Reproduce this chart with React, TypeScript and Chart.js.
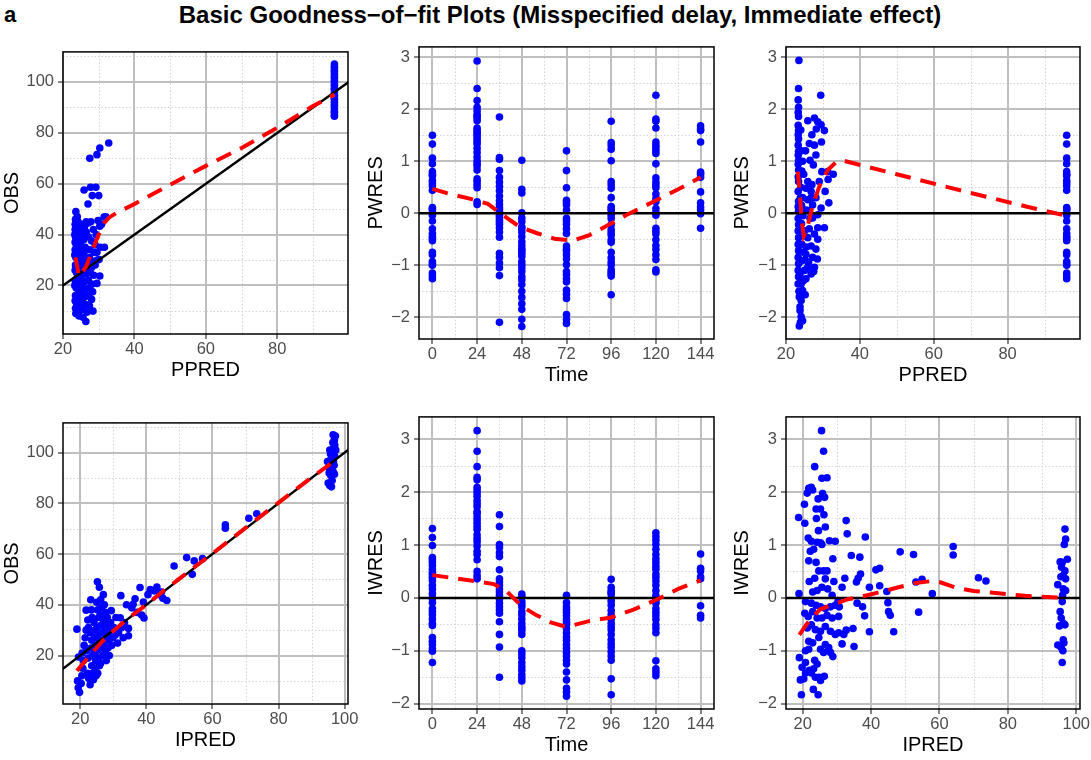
import React, { useEffect, useRef } from "react";
import { Chart, registerables } from "chart.js";

Chart.register(...registerables);

const FONT = "'Liberation Sans', Arial, Helvetica, sans-serif";

const PANEL_TAG = "a";
const TITLE = "Basic Goodness\u2212of\u2212fit Plots (Misspecified delay, Immediate effect)";

// ---------- tick definitions ----------
const TIME_TICKS = [0, 24, 48, 72, 96, 120, 144];
const TIME_MINOR = [12, 36, 60, 84, 108, 132];
const PRED_TICKS = [20, 40, 60, 80];
const PRED_TICKS_100 = [20, 40, 60, 80, 100];
const PRED_MINOR = [30, 50, 70, 90];
const OBS_TICKS = [20, 40, 60, 80, 100];
const OBS_MINOR = [10, 30, 50, 70, 90, 110];
const RES_TICKS = [-2, -1, 0, 1, 2, 3];
const RES_MINOR = [-1.5, -0.5, 0.5, 1.5, 2.5];

// ---------- data ----------
const PPRED_T0 = 96; // population prediction of time-0 samples

// PWRES by time
const PWRES_T0 = [1.5, 1.33, 1.06, 0.95, 0.8, 0.75, 0.72, 0.63, 0.58, 0.53, 0.44, 0.11, 0.08, 0.06, -0.04, -0.15, -0.3, -0.39, -0.45, -0.48, -0.53, -0.75, -0.8, -0.93, -0.97, -1.0, -1.15, -1.21, -1.26];
const PWRES_T24 = [2.93, 2.4, 2.17, 2.04, 1.97, 1.9, 1.87, 1.83, 1.78, 1.64, 1.6, 1.56, 1.52, 1.47, 1.42, 1.37, 1.33, 1.25, 1.17, 1.08, 1.01, 0.95, 0.91, 0.83, 0.66, 0.61, 0.55, 0.49, 0.22, 0.17];
const PWRES_T36 = [1.85, 1.07, 1.04, 0.82, 0.69, 0.6, 0.52, 0.43, 0.33, 0.24, 0.17, 0.11, 0.07, 0.03, -0.04, -0.08, -0.13, -0.17, -0.21, -0.28, -0.36, -0.46, -0.77, -0.85, -0.96, -1.05, -1.2, -2.1];
const PWRES_T48 = [1.02, 0.46, 0.39, 0.01, -0.09, -0.16, -0.26, -0.3, -0.36, -0.45, -0.55, -0.62, -0.69, -0.72, -0.77, -0.83, -0.93, -0.99, -1.05, -1.12, -1.22, -1.28, -1.37, -1.5, -1.62, -1.74, -1.85, -2.04, -2.18];
const PWRES_T72 = [1.2, 0.82, 0.49, 0.25, 0.2, 0.16, 0.06, -0.1, -0.15, -0.21, -0.3, -0.39, -0.63, -0.69, -0.72, -0.8, -0.88, -0.99, -1.12, -1.18, -1.26, -1.32, -1.48, -1.56, -1.64, -1.95, -2.04, -2.12];
const PWRES_T96 = [1.77, 1.36, 1.3, 1.23, 1.01, 0.61, 0.55, 0.48, 0.3, 0.13, 0.09, 0.05, -0.04, -0.1, -0.22, -0.32, -0.37, -0.42, -0.51, -0.56, -0.75, -0.86, -0.94, -0.99, -1.09, -1.13, -1.17, -1.21, -1.57];
const PWRES_T120 = [2.27, 1.81, 1.77, 1.64, 1.37, 1.31, 1.26, 1.2, 1.15, 0.95, 0.68, 0.6, 0.55, 0.49, 0.37, 0.28, 0.22, 0.09, 0.02, -0.04, -0.29, -0.35, -0.4, -0.51, -0.62, -0.7, -0.8, -0.89, -1.09, -1.13];
const PWRES_T144 = [1.68, 1.62, 1.59, 1.37, 0.79, 0.75, 0.69, 0.41, 0.2, 0.12, 0.06, -0.01, -0.29];

// IWRES by time
const IWRES_T0 = [1.31, 1.14, 0.99, 0.76, 0.72, 0.67, 0.61, 0.54, 0.48, 0.44, 0.39, 0.33, 0.24, 0.17, 0.08, -0.01, -0.09, -0.2, -0.26, -0.32, -0.4, -0.48, -0.52, -0.75, -0.82, -0.88, -0.96, -1.01, -1.22];
const IWRES_T24 = [3.16, 2.77, 2.48, 2.28, 2.23, 2.09, 2.04, 1.98, 1.92, 1.84, 1.78, 1.72, 1.63, 1.6, 1.53, 1.47, 1.41, 1.35, 1.29, 1.19, 1.12, 1.06, 0.98, 0.88, 0.82, 0.72, 0.5, 0.42, 0.36];
const IWRES_T36 = [1.57, 1.35, 1.01, 0.95, 0.85, 0.78, 0.53, 0.36, 0.3, 0.24, 0.17, 0.11, 0.05, -0.02, -0.1, -0.17, -0.23, -0.29, -0.45, -0.69, -0.93, -1.5];
const IWRES_T48 = [0.07, 0.02, -0.07, -0.12, -0.17, -0.26, -0.32, -0.4, -0.48, -0.54, -0.58, -0.62, -0.69, -1.0, -1.06, -1.13, -1.22, -1.3, -1.37, -1.45, -1.51, -1.57];
const IWRES_T72 = [0.05, -0.09, -0.17, -0.22, -0.27, -0.34, -0.41, -0.46, -0.51, -0.58, -0.66, -0.74, -0.8, -0.88, -0.95, -1.03, -1.1, -1.18, -1.25, -1.4, -1.55, -1.71, -1.78, -1.86];
const IWRES_T96 = [0.35, 0.2, 0.14, 0.1, 0.07, -0.01, -0.07, -0.14, -0.24, -0.32, -0.4, -0.48, -0.54, -0.6, -0.69, -0.79, -0.87, -0.94, -1.02, -1.1, -1.18, -1.53, -1.83];
const IWRES_T120 = [1.23, 1.16, 1.09, 1.01, 0.92, 0.82, 0.74, 0.67, 0.6, 0.54, 0.45, 0.39, 0.32, 0.24, 0.14, 0.05, -0.01, -0.05, -0.1, -0.2, -0.27, -0.34, -0.41, -0.51, -0.58, -0.66, -1.19, -1.34, -1.4, -1.47];
const IWRES_T144 = [0.83, 0.56, 0.51, 0.4, 0.36, -0.15, -0.33, -0.38];

const PWRES_BY_TIME: [number, number[]][] = [
  [0, PWRES_T0], [24, PWRES_T24], [36, PWRES_T36], [48, PWRES_T48],
  [72, PWRES_T72], [96, PWRES_T96], [120, PWRES_T120], [144, PWRES_T144],
];
const IWRES_BY_TIME: [number, number[]][] = [
  [0, IWRES_T0], [24, IWRES_T24], [36, IWRES_T36], [48, IWRES_T48],
  [72, IWRES_T72], [96, IWRES_T96], [120, IWRES_T120], [144, IWRES_T144],
];

// OBS of time-0 samples (PPRED = 96)
const OBS_T0 = [107, 106, 105.5, 104.5, 104, 103, 102, 101.5, 100.5, 100, 99, 98.5, 97.5, 97, 96, 95, 94.5, 93.5, 93, 92, 91, 90.5, 89.5, 88.5, 88, 87, 86.5];

// OBS vs PPRED (remaining samples) [PPRED, OBS]
const OBS_PPRED: [number, number][] = [
  [23.6, 49], [23.5, 46], [23.8, 44], [24.2, 45], [23.4, 42], [24, 41], [24.6, 43], [25.2, 44], [26, 43], [27, 44.5],
  [27.8, 45], [28.5, 42], [29.3, 40], [26.5, 41], [25.5, 40], [23.5, 39], [24.3, 38], [23.7, 36], [24.8, 37], [25.8, 38],
  [27.2, 39], [28, 37.5], [29, 36], [23.4, 34], [24.1, 33], [25, 34.5], [26.2, 35], [27.5, 34], [28.7, 33], [30.5, 35],
  [31.6, 35], [23.6, 31], [24.4, 30], [25.3, 31.5], [26.4, 30.5], [27.4, 31], [28.4, 29.5], [29.6, 30], [30.1, 30.2], [23.5, 28],
  [24.2, 27], [25, 28.5], [26, 27.5], [27, 26.5], [28, 27], [29, 28], [23.8, 25], [24.6, 24], [25.5, 25.5], [26.5, 24.5],
  [27.6, 25], [28.6, 24], [30.3, 23.7], [23.4, 22], [24.2, 21], [25.1, 22.5], [26.1, 21.5], [27.1, 22], [28.1, 20.5], [29.5, 20.8],
  [23.7, 19], [24.5, 18], [25.3, 19.5], [26.3, 18.5], [27.3, 19], [28.3, 17.5], [23.5, 16], [24.3, 15], [25.2, 16.5], [26.2, 15.5],
  [27.2, 16], [28, 14.5], [23.8, 13], [24.6, 12], [25.4, 13.5], [26.4, 12.5], [27.4, 12], [23.5, 11], [24.4, 10], [25.5, 10.5],
  [26.8, 9.5], [28.4, 9.9], [23.6, 9], [24.5, 8], [25.6, 7.5], [26.4, 5.8], [23.4, 44], [23.3, 40], [23.4, 37], [23.3, 32],
  [23.4, 26], [23.3, 20], [23.4, 14], [24, 47], [25, 42], [26.5, 45], [29.5, 33], [24.9, 36], [26.9, 29], [25.9, 33],
  [25.9, 57.5], [27.7, 58.6], [29.2, 58.6], [28.2, 55.3], [30, 55.3], [27, 52], [27.5, 70], [29.5, 71.4], [30.3, 74], [32.8, 76],
  [31.5, 46.9], [32, 47], [30.3, 43.3], [29.8, 45.5], [30.8, 44],
];

// PWRES vs PPRED (remaining samples) [PPRED, PWRES]
const PWRES_PPRED: [number, number][] = [
  [23.5, 2.94], [23.4, 2.4], [23.3, 2.18], [23.4, 2.04], [23.3, 1.94], [23.4, 1.86], [23.3, 1.69], [23.4, 1.59], [23.3, 1.51], [23.4, 1.43],
  [23.3, 1.31], [23.4, 1.19], [23.3, 1.12], [23.4, 1.02], [23.3, 0.94], [23.4, 0.83], [23.3, 0.7], [23.4, 0.61], [23.3, 0.42], [23.4, 0.23],
  [23.3, 0.13], [23.4, 0.04], [23.3, -0.1], [23.4, -0.22], [23.3, -0.34], [23.4, -0.47], [23.3, -0.6], [23.4, -0.72], [23.3, -0.85], [23.4, -0.97],
  [23.3, -1.1], [23.4, -1.22], [23.3, -1.36], [23.5, -1.5], [23.6, -1.61], [23.6, -2.17], [23.9, -2.1],
  [29.4, 2.27], [25.9, 1.78], [27.7, 1.83], [28.6, 1.76], [29.5, 1.7], [30.4, 1.59], [27, 1.51], [28.2, 1.62], [29.6, 1.37], [26.3, 1.34],
  [27.7, 1.31], [25.3, 1.2], [28.1, 1.12], [26.5, 1.02], [24.5, 1.0], [27.4, 0.93], [24.3, 0.81], [29.7, 0.8], [31.3, 0.8], [32.8, 0.75],
  [29, 0.61], [31.4, 0.65], [25.9, 0.61], [25.4, 0.48], [26.8, 0.42], [30.6, 0.42], [28.1, 0.3], [25.9, 0.26], [24.5, 0.3], [31.6, 0.2],
  [27.2, 0.16], [29.5, 0.1], [25.4, 0.06], [28.6, -0.03], [24.2, 0.15], [27.2, -0.09], [30.4, -0.28], [28.6, -0.28], [25, -0.34], [27.7, -0.4],
  [24.2, -0.2], [25.9, -0.47], [28.6, -0.5], [24.3, -0.6], [26.8, -0.63], [28.1, -0.69], [25.4, -0.79], [27.2, -0.85], [24.1, -0.92], [26.1, -0.95],
  [27.7, -1.04], [25, -1.1], [23.8, -1.17], [26.8, -1.17], [25.4, -1.26], [24.1, -1.36], [27.5, -1.12], [24.5, -1.49], [24.1, -1.68], [23.8, -1.87],
  [24.1, -1.99], [24.5, -2.07], [23.8, -1.8], [25.2, -1.57], [24.8, -0.75], [26.5, -0.1], [24.8, 0.75], [26, 0.05], [24.6, -0.05], [25.5, -0.65],
  [26.3, -0.3], [24.7, -1.3], [25.8, -1.05], [27, 0.55], [28.5, -0.88], [26.8, 0.3], [24, 0.5], [24.2, 1.2], [24.0, 1.6], [25.2, -0.9],
  [23.9, 0.3], [24.5, -0.4],
];

// OBS vs IPRED [IPRED, OBS]
const OBS_IPRED: [number, number][] = [
  [19, 30.4], [19.5, 19.4], [19.2, 10], [19.4, 7.3], [19.8, 5.5], [20.3, 9], [20.5, 12], [20.8, 15], [21, 18], [20.6, 21],
  [21.2, 24], [21.5, 27], [21.8, 30], [21.8, 37.9], [22.3, 34], [22.5, 31], [22, 22], [22.4, 19], [22.2, 13], [22.6, 11],
  [23, 8.5], [23.2, 42], [23.4, 38], [23.6, 35], [23.1, 29], [23.5, 26], [23.3, 23], [23.7, 20], [23.5, 16], [23.8, 13],
  [24, 10.5], [24.2, 33], [24.5, 30], [24.3, 27], [24.6, 24], [24.4, 21], [24.7, 18], [24.5, 15], [24.8, 12], [25.2, 49.1],
  [25.8, 46.9], [25, 41], [25.3, 38], [25.6, 35], [25.1, 31], [25.4, 28], [25.7, 25], [25.2, 22], [25.5, 19], [25.8, 16],
  [25.3, 13], [26.2, 42], [26.5, 39], [26.1, 36], [26.4, 32], [26.7, 29], [26.3, 26], [26.6, 23], [26.9, 20], [26.2, 17],
  [27, 44], [27.3, 40], [27.6, 37], [27.1, 34], [27.5, 30], [27.8, 27], [27.2, 24], [27.6, 21], [27.9, 18], [28.2, 35],
  [28.5, 32], [28.3, 29], [28.7, 26], [28.4, 23], [28.8, 20], [29.4, 37.7], [29.2, 33], [29.6, 30], [29.8, 27], [29.5, 24],
  [30.2, 31], [30.5, 28], [30.8, 35], [31.3, 24.9], [31.6, 29], [32.1, 34.9], [32.3, 43.6], [32.5, 31], [33, 27], [33.4, 33],
  [34, 40], [34.6, 30.7], [34.6, 27.8], [35.6, 38.8], [36, 40.2], [36.6, 42.4], [37.2, 37], [38.1, 46.8], [38.6, 36], [39.1, 41.1],
  [39.3, 34.8], [40.5, 44], [41.2, 46], [42.4, 45.5], [43.2, 47], [44, 44], [45, 42.6], [46.2, 41.7], [44.6, 45],
  [48.4, 55.3], [52.2, 58.6], [53.9, 52], [54.5, 57.3], [57, 58.2], [63.9, 71.5], [63.9, 70.2], [71, 74.1], [73.4, 75.9],
  [94.8, 96.5], [95.2, 94], [95, 88], [95.5, 87], [96, 86.5], [96.2, 89], [95.8, 91], [96.5, 92.5], [96.8, 95], [95.6, 97],
  [96, 99], [96.3, 100.5], [96.7, 102], [97, 103], [96.9, 105], [97.2, 106.5], [96.5, 107], [95.5, 101], [95.7, 99.5], [96.2, 97.5],
  [96.6, 96.5], [97, 98.5], [97.3, 101], [95.3, 92], [96.1, 93.5], [96.9, 91.5], [95.9, 95.5], [96.4, 104],
];

// IWRES vs IPRED [IPRED, IWRES]
const IWRES_IPRED: [number, number][] = [
  [25.5, 3.16], [26.1, 2.77], [23.5, 2.48], [25.6, 2.26], [27.1, 2.27], [21.75, 2.07], [22.5, 2.09], [22.9, 2.04], [21.3, 1.98], [25.8, 1.97],
  [26.4, 1.9], [24.5, 1.87], [20.5, 1.77], [18.8, 1.52], [20.6, 1.41], [23.9, 1.68], [25.2, 1.68], [26.2, 1.57], [24, 1.5], [26.6, 1.34],
  [24.6, 1.27], [21.6, 1.13], [22.5, 1.07], [27.8, 1.08], [29.5, 1.07], [25.2, 1.04], [24.2, 1.05], [25.6, 1.01], [23.2, 0.92], [22.2, 0.88],
  [23.9, 0.67], [21.75, 0.7], [28.8, 0.74], [24.7, 0.51], [26.1, 0.51], [27.1, 0.51], [26.6, 0.36], [23.5, 0.37], [29.1, 0.31], [21.9, 0.31],
  [18.9, 0.08], [22.9, 0.11], [24.2, 0.14], [25.6, 0.2], [27.3, 0.17], [28.6, 0.05], [20.8, -0.07], [22.5, -0.1], [23.9, -0.14], [25.2, -0.17],
  [26.6, -0.2], [28.1, -0.17], [29.5, -0.14], [20.6, -0.29], [21.6, -0.35], [22.9, -0.26], [24.2, -0.38], [25.6, -0.38], [27.1, -0.33], [28.6, -0.38],
  [30.5, -0.35], [21.3, -0.57], [22.5, -0.51], [23.7, -0.6], [25.2, -0.63], [26.6, -0.54], [28.1, -0.63], [29.5, -0.69], [30.5, -0.66], [21.75, -0.82],
  [22.9, -0.85], [24.7, -0.75], [26.6, -0.88], [27.6, -0.94], [20.8, -1.0], [21.75, -0.97], [25.2, -0.97], [26.1, -1.03], [28.1, -1.03], [28.8, -1.11],
  [19, -1.13], [20.8, -1.22], [23.5, -1.18], [24.2, -1.25], [23.2, -1.34], [19.8, -1.31], [21.9, -1.37], [22.5, -1.42], [20.8, -1.42], [23.7, -1.5],
  [24.7, -1.5], [25.2, -1.56], [19.3, -1.55], [20.3, -1.53], [23.1, -1.73], [19.6, -1.83], [24.5, -1.83], [26.3, -1.48],
  [32.7, 1.46], [33, 1.21], [38.3, 1.15], [34.2, 0.8], [36.7, 0.77], [31.5, 0.2], [32.3, 0.37], [35.7, 0.3], [36.2, 0.37], [36.9, 0.45],
  [39.5, 0.2], [41.4, 0.53], [42.5, 0.56], [42.5, 0.23], [44.6, 0.12], [44.9, -0.09], [45.1, -0.26], [45.6, -0.33], [46.6, -0.64], [48.5, 0.87],
  [52.4, 0.82], [54.9, 0.35], [53.9, -0.27], [53.1, 0.3], [57.9, 0.08], [64, 0.97], [64, 0.81], [71.4, 0.38], [73.6, 0.32], [35.9, -0.1],
  [37.5, -0.17], [38.1, -0.34], [39.5, -0.64], [34.7, -0.58], [35, -0.92], [32, -0.69], [32.7, -0.61], [31.5, -0.87], [30.7, -0.17], [30.3, -0.07],
  [96.7, 1.3], [96.9, 1.11], [96.5, 1.01], [97.4, 0.73], [95.9, 0.67], [95.3, 0.68], [95.7, 0.58], [96.7, 0.51], [96.9, 0.36], [96.2, 0.42],
  [94.6, 0.25], [96.2, 0.17], [96.9, 0.14], [95.9, -0.07], [95.3, -0.26], [95.6, -0.38], [96.2, -0.48], [96.7, -0.51], [95.1, -0.53], [96.2, -0.79],
  [96.4, -0.85], [94.6, -0.89], [95.6, -0.94], [96.1, -1.0], [95.9, -1.22], [96, 0.05], [95.5, 0.4],
];

// smoother (red dashed) curves
const SMOOTH_OBS_PPRED: [number, number][] = [[23.5, 31], [24.5, 23.5], [26.5, 27.5], [28, 33], [30, 40], [31.5, 44.5], [33, 46.8], [35, 48.5], [40, 52], [50, 59.6], [60, 67], [70, 74], [80, 82], [90, 90.5], [96, 95]];
const SMOOTH_PWRES_TIME: [number, number][] = [[0, 0.47], [9.3, 0.37], [20, 0.28], [29.8, 0.18], [37.9, -0.04], [46.8, -0.26], [56.6, -0.39], [65.5, -0.49], [75.4, -0.53], [84.3, -0.42], [95.9, -0.2], [103.9, -0.04], [114.6, 0.15], [123.6, 0.31], [132.5, 0.47], [144, 0.69]];
const SMOOTH_PWRES_PPRED: [number, number][] = [[23.2, 0.8], [23.8, 0.32], [24.2, -0.1], [24.8, -0.44], [25.5, -0.35], [26.1, -0.18], [27.2, 0.14], [29, 0.51], [31.3, 0.83], [33.5, 0.98], [35, 1.02], [50, 0.75], [70, 0.39], [85, 0.13], [96, -0.05]];
const SMOOTH_OBS_IPRED: [number, number][] = [[19, 14], [22.4, 19.2], [26.4, 25.2], [30, 29.7], [35, 35.2], [40, 40], [45, 45.3], [50, 50.3], [55, 55.3], [60, 60.2], [70, 70.3], [80, 80.3], [90, 90.2], [96, 95.8]];
const SMOOTH_IWRES_TIME: [number, number][] = [[0, 0.43], [12, 0.37], [24, 0.31], [33, 0.26], [40, 0.12], [48, -0.16], [56, -0.33], [64, -0.47], [72, -0.55], [84, -0.44], [96, -0.37], [108, -0.22], [120, -0.04], [132, 0.17], [144, 0.33]];
const SMOOTH_IWRES_IPRED: [number, number][] = [[19, -0.7], [22, -0.42], [25, -0.22], [27, -0.17], [30, -0.1], [33, -0.03], [37, 0.02], [42, 0.1], [48, 0.2], [53, 0.28], [58, 0.32], [60, 0.3], [65, 0.19], [70, 0.13], [75, 0.1], [80, 0.07], [85, 0.04], [90, 0.02], [97, 0]];

// reference lines
const IDENTITY_LINE: [number, number][] = [[0, 0], [120, 120]];
const ZERO_LINE: [number, number][] = [[-20, 0], [200, 0]];

// ---------- helpers ----------
const toPts = (arr: [number, number][]) => arr.map(([x, y]) => ({ x, y }));
const timePts = (groups: [number, number[]][]) =>
  groups.flatMap(([t, vals]) => vals.map((v) => ({ x: t, y: v })));
const colPts = (x: number, vals: number[]) => vals.map((v) => ({ x, y: v }));
const fmt = (v: number) => (v < 0 ? "\u2212" + Math.abs(v) : String(v));

const AXIS_W = 63;
const X_AXIS_H = 50;
const PAD_TOP = 10;
const PAD_RIGHT = 22;

type PanelCfg = {
  rect: [number, number, number, number]; // L, T, R, B page px
  xr: [number, number];
  yr: [number, number];
  xticks: number[];
  xminor: number[];
  yticks: number[];
  yminor: number[];
  xTitle: string;
  yTitle: string;
  yTitleOff: number;
  points: { x: number; y: number }[];
  refLine: [number, number][];
  smooth: [number, number][];
};

const PANELS: PanelCfg[] = [
  {
    rect: [63, 48, 348, 334], xr: [20, 99.8], yr: [0.9, 111.8],
    xticks: PRED_TICKS, xminor: PRED_MINOR, yticks: OBS_TICKS, yminor: OBS_MINOR,
    xTitle: "PPRED", yTitle: "OBS", yTitleOff: 51,
    points: [...toPts(OBS_PPRED), ...colPts(PPRED_T0, OBS_T0)],
    refLine: IDENTITY_LINE, smooth: SMOOTH_OBS_PPRED,
  },
  {
    rect: [419, 43, 714, 339], xr: [-7.2, 151.2], yr: [-2.42, 3.2],
    xticks: TIME_TICKS, xminor: TIME_MINOR, yticks: RES_TICKS, yminor: RES_MINOR,
    xTitle: "Time", yTitle: "PWRES", yTitleOff: 43,
    points: timePts(PWRES_BY_TIME),
    refLine: ZERO_LINE, smooth: SMOOTH_PWRES_TIME,
  },
  {
    rect: [786, 43, 1080, 339], xr: [20, 99.6], yr: [-2.42, 3.2],
    xticks: PRED_TICKS, xminor: PRED_MINOR, yticks: RES_TICKS, yminor: RES_MINOR,
    xTitle: "PPRED", yTitle: "PWRES", yTitleOff: 44,
    points: [...toPts(PWRES_PPRED), ...colPts(PPRED_T0, PWRES_T0)],
    refLine: ZERO_LINE, smooth: SMOOTH_PWRES_PPRED,
  },
  {
    rect: [63, 419, 348, 704], xr: [14.8, 101], yr: [0.9, 111.7],
    xticks: PRED_TICKS_100, xminor: PRED_MINOR, yticks: OBS_TICKS, yminor: OBS_MINOR,
    xTitle: "IPRED", yTitle: "OBS", yTitleOff: 51,
    points: toPts(OBS_IPRED),
    refLine: IDENTITY_LINE, smooth: SMOOTH_OBS_IPRED,
  },
  {
    rect: [419, 413, 714, 709], xr: [-7.2, 151.2], yr: [-2.1, 3.42],
    xticks: TIME_TICKS, xminor: TIME_MINOR, yticks: RES_TICKS, yminor: RES_MINOR,
    xTitle: "Time", yTitle: "IWRES", yTitleOff: 43,
    points: timePts(IWRES_BY_TIME),
    refLine: ZERO_LINE, smooth: SMOOTH_IWRES_TIME,
  },
  {
    rect: [786, 413, 1080, 709], xr: [15.1, 101.1], yr: [-2.1, 3.42],
    xticks: PRED_TICKS_100, xminor: PRED_MINOR, yticks: RES_TICKS, yminor: RES_MINOR,
    xTitle: "IPRED", yTitle: "IWRES", yTitleOff: 44,
    points: toPts(IWRES_IPRED),
    refLine: ZERO_LINE, smooth: SMOOTH_IWRES_IPRED,
  },
];

const GRID_MAJOR = "#bfbfbf";
const GRID_MINOR = "#d4d4d4";

function buildConfig(p: PanelCfg): any {
  const decor = {
    id: "decor",
    beforeDraw(chart: any) {
      const { ctx, chartArea: a, scales } = chart;
      ctx.save();
      ctx.strokeStyle = GRID_MINOR;
      ctx.lineWidth = 1;
      ctx.setLineDash([1.5, 2]);
      for (const v of p.xminor) {
        const px = Math.round(scales.x.getPixelForValue(v)) + 0.5;
        if (px < a.left || px > a.right) continue;
        ctx.beginPath(); ctx.moveTo(px, a.top); ctx.lineTo(px, a.bottom); ctx.stroke();
      }
      for (const v of p.yminor) {
        const py = Math.round(scales.y.getPixelForValue(v)) + 0.5;
        if (py < a.top || py > a.bottom) continue;
        ctx.beginPath(); ctx.moveTo(a.left, py); ctx.lineTo(a.right, py); ctx.stroke();
      }
      ctx.restore();
    },
    afterDraw(chart: any) {
      const { ctx, chartArea: a } = chart;
      ctx.save();
      ctx.strokeStyle = "#000";
      ctx.lineWidth = 1.5;
      ctx.strokeRect(a.left, a.top, a.right - a.left, a.bottom - a.top);
      ctx.fillStyle = "#000";
      ctx.font = `20px ${FONT}`;
      ctx.textAlign = "center";
      ctx.textBaseline = "middle";
      ctx.fillText(p.xTitle, (a.left + a.right) / 2, a.bottom + 36);
      ctx.translate(a.left - p.yTitleOff, (a.top + a.bottom) / 2);
      ctx.rotate(-Math.PI / 2);
      ctx.fillText(p.yTitle, 0, 0);
      ctx.restore();
    },
  };

  const tickFont = { family: FONT, size: 16.5 };
  const axisCommon = {
    type: "linear",
    border: { display: false },
    grid: {
      color: GRID_MAJOR,
      lineWidth: 2,
      drawTicks: true,
      tickLength: 5,
      tickColor: "#333333",
      tickWidth: 1.2,
    },
  };

  return {
    type: "scatter",
    data: {
      datasets: [
        {
          data: toPts(p.smooth),
          showLine: true,
          pointRadius: 0,
          borderColor: "#ff0000",
          borderWidth: 4,
          borderDash: [16, 10],
          borderCapStyle: "butt",
          tension: 0,
          order: 0,
        },
        {
          data: toPts(p.refLine),
          showLine: true,
          pointRadius: 0,
          borderColor: "#000000",
          borderWidth: 2.5,
          tension: 0,
          order: 1,
        },
        {
          data: p.points,
          pointRadius: 3.8,
          pointBorderWidth: 0,
          pointBackgroundColor: "#0000ff",
          backgroundColor: "#0000ff",
          borderColor: "#0000ff",
          order: 2,
        },
      ],
    },
    options: {
      animation: false,
      responsive: false,
      maintainAspectRatio: false,
      events: [],
      layout: { padding: { left: 0, top: PAD_TOP, right: PAD_RIGHT, bottom: 0 } },
      plugins: { legend: { display: false }, tooltip: { enabled: false }, title: { display: false } },
      scales: {
        x: {
          ...axisCommon,
          min: p.xr[0],
          max: p.xr[1],
          afterBuildTicks: (s: any) => { s.ticks = p.xticks.map((v) => ({ value: v })); },
          afterFit: (s: any) => { s.height = X_AXIS_H; },
          ticks: { color: "#4d4d4d", font: tickFont, padding: 1, maxRotation: 0, minRotation: 0, autoSkip: false, callback: (v: any) => fmt(Number(v)) },
        },
        y: {
          ...axisCommon,
          min: p.yr[0],
          max: p.yr[1],
          afterBuildTicks: (s: any) => { s.ticks = p.yticks.map((v) => ({ value: v })); },
          afterFit: (s: any) => { s.width = AXIS_W; },
          ticks: { color: "#4d4d4d", font: tickFont, padding: 4, autoSkip: false, callback: (v: any) => fmt(Number(v)) },
        },
      },
    },
    plugins: [decor],
  };
}

function Panel({ p }: { p: PanelCfg }) {
  const ref = useRef<HTMLCanvasElement>(null);
  const [L, T, R, B] = p.rect;
  const width = R - L + AXIS_W + PAD_RIGHT;
  const height = B - T + PAD_TOP + X_AXIS_H;
  useEffect(() => {
    const chart = new Chart(ref.current as HTMLCanvasElement, buildConfig(p));
    return () => chart.destroy();
  }, []);
  return (
    <canvas
      ref={ref}
      width={width}
      height={height}
      style={{ position: "absolute", left: L - AXIS_W, top: T - PAD_TOP, width, height }}
    />
  );
}

export default function App() {
  return (
    <div style={{ position: "absolute", left: 0, top: 0, width: 1091, height: 760, background: "#ffffff", overflow: "hidden" }}>
      {PANELS.map((p, i) => (
        <Panel key={i} p={p} />
      ))}
      <div style={{ position: "absolute", left: 4, top: 3, font: `bold 22px ${FONT}`, color: "#000", lineHeight: "24px" }}>
        {PANEL_TAG}
      </div>
      <div style={{ position: "absolute", left: 0, top: 3, width: 1120, textAlign: "center", font: `bold 24px ${FONT}`, color: "#000", lineHeight: "24px", whiteSpace: "nowrap" }}>
        {TITLE}
      </div>
    </div>
  );
}
